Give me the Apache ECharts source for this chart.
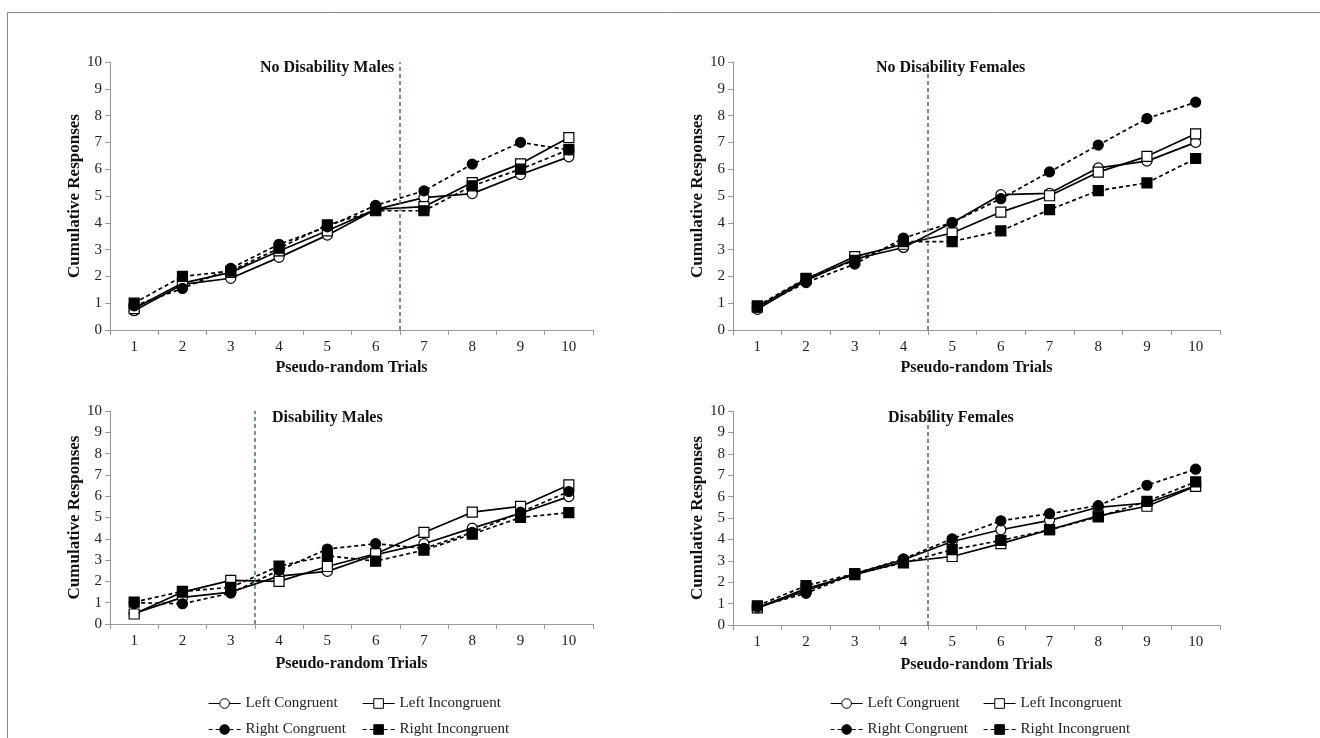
<!DOCTYPE html>
<html>
<head>
<meta charset="utf-8">
<script src="https://cdn.jsdelivr.net/npm/echarts@6/dist/echarts.min.js"></script>
<style>html,body{margin:0;padding:0;background:#fff}#c{width:1320px;height:738px}</style>
</head>
<body>
<div id="c"></div>
<script>
const categories = ['1','2','3','4','5','6','7','8','9','10'];
const seriesNames = ['Left Congruent','Left Incongruent','Right Congruent','Right Incongruent'];
const panelTitles = ['No Disability Males','No Disability Females','Disability Males','Disability Females'];
const dividers = [6.5, 4.5, 3.5, 4.5];

// No Disability Males
const ndmLC = [0.72, 1.7, 1.93, 2.71, 3.54, 4.5, 4.94, 5.09, 5.8, 6.46];
const ndmLI = [0.8, 1.75, 2.15, 2.95, 3.7, 4.5, 4.6, 5.5, 6.2, 7.18];
const ndmRC = [0.9, 1.55, 2.3, 3.2, 3.85, 4.65, 5.19, 6.19, 7.0, 6.72];
const ndmRI = [1.0, 2.0, 2.2, 3.05, 3.92, 4.45, 4.45, 5.38, 6.0, 6.73];
// No Disability Females
const ndfLC = [0.77, 1.85, 2.65, 3.08, 4.0, 5.05, 5.1, 6.05, 6.3, 7.0];
const ndfLI = [0.85, 1.9, 2.74, 3.2, 3.62, 4.4, 5.01, 5.89, 6.48, 7.32];
const ndfRC = [0.85, 1.77, 2.46, 3.43, 4.01, 4.9, 5.9, 6.9, 7.89, 8.5];
const ndfRI = [0.9, 1.93, 2.6, 3.3, 3.3, 3.7, 4.49, 5.2, 5.49, 6.4];
// Disability Males
const dmLC = [0.5, 1.25, 1.5, 2.25, 2.47, 3.25, 3.77, 4.5, 5.2, 5.98];
const dmLI = [0.47, 1.5, 2.05, 2.0, 2.7, 3.3, 4.3, 5.25, 5.52, 6.53];
const dmRC = [1.0, 0.95, 1.45, 2.52, 3.52, 3.77, 3.55, 4.3, 5.25, 6.22];
const dmRI = [1.03, 1.53, 1.72, 2.72, 3.2, 2.95, 3.47, 4.22, 5.0, 5.23];
// Disability Females
const dfLC = [0.8, 1.6, 2.4, 3.05, 3.9, 4.45, 4.89, 5.5, 5.7, 6.5];
const dfLI = [0.8, 1.7, 2.35, 2.95, 3.2, 3.8, 4.45, 5.1, 5.55, 6.48];
const dfRC = [0.85, 1.48, 2.4, 3.09, 4.03, 4.87, 5.2, 5.58, 6.53, 7.28];
const dfRI = [0.9, 1.84, 2.4, 2.9, 3.52, 3.95, 4.45, 5.05, 5.78, 6.69];

const panelData = [
  [ndmLC, ndmLI, ndmRC, ndmRI],
  [ndfLC, ndfLI, ndfRC, ndfRI],
  [dmLC, dmLI, dmRC, dmRI],
  [dfLC, dfLI, dfRC, dfRI]
];

const FONT = "'Liberation Serif', 'Times New Roman', serif";
const grids = [
  {left: 110, top: 62, width: 483, height: 268},
  {left: 733, top: 62, width: 487, height: 268},
  {left: 110, top: 411, width: 483, height: 213},
  {left: 733, top: 411, width: 487, height: 214}
];
const titlePos = [[260, 60], [876, 60], [272, 410], [888, 410]];
const xNameGap = [30, 30, 32, 32];

const styles = [
  {symbol: 'circle', fill: '#fff', dash: 'solid'},
  {symbol: 'rect', fill: '#fff', dash: 'solid'},
  {symbol: 'circle', fill: '#000', dash: [4, 3]},
  {symbol: 'rect', fill: '#000', dash: [4, 3]}
];

const xAxes = [], yAxes = [], series = [];
grids.forEach((g, i) => {
  xAxes.push({
    type: 'category', gridIndex: i, data: categories, boundaryGap: true,
    name: 'Pseudo-random Trials', nameLocation: 'middle', nameGap: xNameGap[i],
    nameTextStyle: {fontFamily: FONT, fontWeight: 'bold', fontSize: 16, color: '#111'},
    axisLine: {show: true, lineStyle: {color: '#999', width: 1}},
    axisTick: {show: true, length: 5, lineStyle: {color: '#999'}},
    axisLabel: {fontFamily: FONT, fontSize: 15, color: '#222', margin: 10},
    splitLine: {show: false}
  });
  yAxes.push({
    type: 'value', gridIndex: i, min: 0, max: 10, interval: 1,
    name: 'Cumulative Responses', nameLocation: 'middle', nameGap: 27,
    nameTextStyle: {fontFamily: FONT, fontWeight: 'bold', fontSize: 17, color: '#111'},
    axisLine: {show: true, lineStyle: {color: '#999', width: 1}},
    axisTick: {show: true, length: 5, lineStyle: {color: '#999'}},
    axisLabel: {fontFamily: FONT, fontSize: 15, color: '#222', margin: 8},
    splitLine: {show: false}
  });
});
grids.forEach((g, i) => {
  xAxes.push({type: 'value', gridIndex: i, min: 0.5, max: 10.5, show: false});
});

panelData.forEach((arrs, p) => {
  arrs.forEach((vals, s) => {
    const st = styles[s];
    series.push({
      name: seriesNames[s], type: 'line', xAxisIndex: p, yAxisIndex: p,
      data: vals, symbol: st.symbol, symbolSize: 10,
      showAllSymbol: true,
      lineStyle: {color: '#000', width: 1.7, type: st.dash},
      itemStyle: {color: st.fill, borderColor: '#000', borderWidth: 1.2},
      emphasis: {disabled: true}, animation: false
    });
  });
  series.push({
    name: 'divider' + p, type: 'line', xAxisIndex: 4 + p, yAxisIndex: p, data: [],
    animation: false, silent: true,
    markLine: {
      silent: true, symbol: 'none', animation: false, label: {show: false},
      lineStyle: {color: '#3d6f8e', type: [4, 3], width: 1.5},
      data: [{xAxis: dividers[p]}]
    }
  });
});

const titles = panelTitles.map((t, i) => ({
  text: t, left: titlePos[i][0], top: titlePos[i][1], padding: 0,
  textStyle: {fontFamily: FONT, fontWeight: 'bold', fontSize: 16, color: '#111'}
}));

const legendPos = [
  [seriesNames[0], 208, 696], [seriesNames[1], 362, 696],
  [seriesNames[2], 208, 722], [seriesNames[3], 362, 722],
  [seriesNames[0], 830, 696], [seriesNames[1], 983, 696],
  [seriesNames[2], 830, 722], [seriesNames[3], 983, 722]
];
const legends = legendPos.map(l => ({
  data: [l[0]], left: l[1], top: l[2], padding: 0, itemGap: 0,
  itemWidth: 32, itemHeight: 12, selectedMode: false,
  lineStyle: {width: 1.2},
  itemStyle: {borderWidth: 1},
  textStyle: {fontFamily: FONT, fontSize: 15, color: '#222'}
}));

const chart = echarts.init(document.getElementById('c'), null, {renderer: 'canvas'});
chart.setOption({
  backgroundColor: '#fff',
  animation: false,
  title: titles,
  legend: legends,
  grid: grids,
  xAxis: xAxes,
  yAxis: yAxes,
  series: series,
  graphic: [{
    type: 'rect', silent: true, z: -1,
    shape: {x: 7.5, y: 12.5, width: 1330, height: 740},
    style: {fill: 'none', stroke: '#8a8a8a', lineWidth: 1}
  }]
});
</script>
</body>
</html>
